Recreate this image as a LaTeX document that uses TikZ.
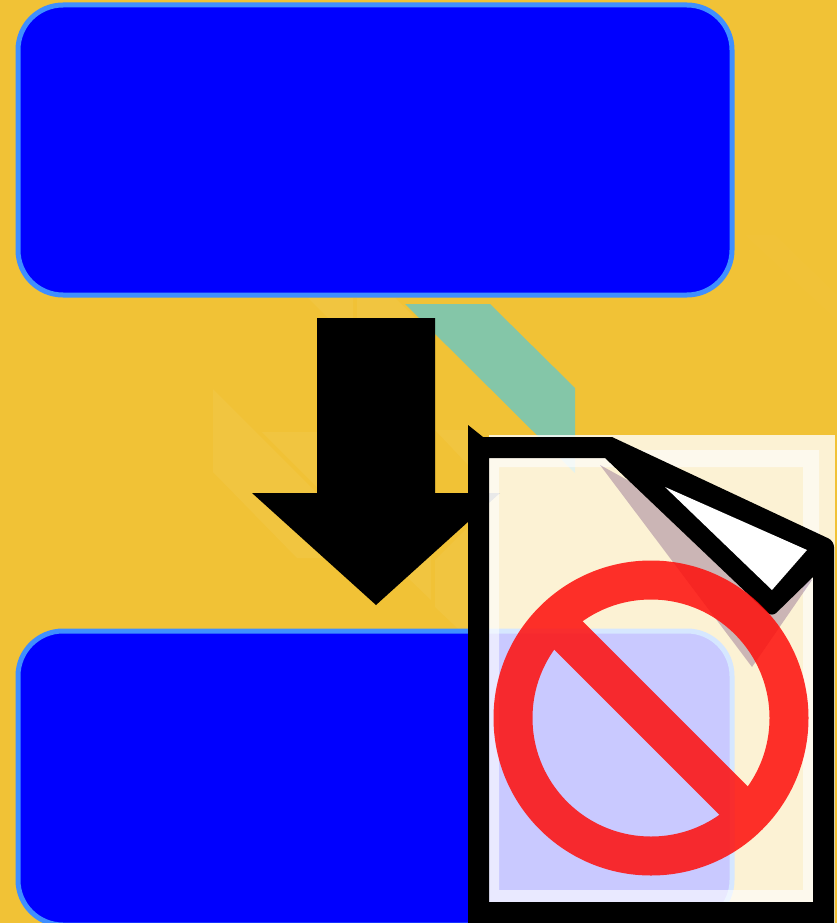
\documentclass[tikz,border=0pt]{standalone}
\usepackage{xcolor}
\usetikzlibrary{positioning}
\definecolor{panelbg}{HTML}{F1C236}
\definecolor{boxblue}{HTML}{0000FF}
\definecolor{boxedge}{HTML}{3F8FFF}
\definecolor{tealband}{HTML}{84C6A8}
\definecolor{forbidred}{RGB}{254,13,10}
\definecolor{foldshade}{RGB}{90,40,110}

\begin{document}
\begin{tikzpicture}[
        x=1pt, y=-1pt,
        bluebox/.style={draw=boxedge, fill=boxblue, line width=5pt, rounded corners=45pt, inner sep=0pt, outer sep=0pt, minimum width=714pt},
        faint/.style={fill=white, fill opacity=0.05},
        sheet/.style={fill=white, fill opacity=0.79},
        sheetring/.style={fill=white, fill opacity=0.6, even odd rule},
        outline/.style={fill=black, even odd rule},
        forbid/.style={draw=forbidred, line width=39pt}
    ]
        \useasboundingbox (0,0) rectangle (837,923);
        \fill[panelbg] (0,0) rectangle (837,923);

        % Faint shapes on the background
        \fill[faint] (213,389) -- (317,493) -- (322,558) -- (297,558) -- (213,472) -- cycle;
        \fill[faint] (262,432) -- (317,432) -- (317,487) -- cycle;
        \fill[faint] (435,430) -- (470,430) -- (470,467) -- cycle;
        \fill[faint] (405,575) -- (431,600) -- (431,550) -- cycle;
        \fill[faint] (435,560) -- (470,525) -- (470,640) -- (435,607) -- cycle;
        \fill[faint] (308,298) -- (353,298) -- (353,318) -- (328,318) -- cycle;
        \fill[faint] (357,298) -- (395,298) -- (415,318) -- (357,318) -- cycle;
        \fill[faint, fill opacity=0.012] (745,235) -- (837,320) -- (837,295) -- (775,235) -- cycle;

        % Teal band behind arrow and sheet
        \fill[tealband] (405,304) -- (490,304) -- (575,388) -- (575,473) -- cycle;

        % Boxes
        \node[bluebox, minimum height=290pt, anchor=north west] (topbox) at (18,5) {};
        \node[bluebox, minimum height=294pt, anchor=north west] (bottombox) at (18,631) {};

        % Arrow between the boxes
        \fill[black] (317,318) -- (435,318) -- (435,493) -- (500,493) -- (376,605) -- (252,493) -- (317,493) -- cycle;

        % Sheet: pale layers over everything
        \fill[sheet] (489,435) rectangle (835,923);
        \fill[sheetring] (489,450) rectangle (819,902) (499,467) rectangle (803,890);

        % Shadow of the fold
        \fill[foldshade, fill opacity=0.3] (600,465) -- (700,520) -- (812,580) -- (752,667) -- cycle;

        % Sheet outline and fold
        \fill[outline] (468,425) -- (483,437) -- (612,437) [rounded corners=6pt] -- (834,541) [sharp corners] -- (834,923) -- (468,923) -- cycle
            (489,458) -- (605,458) [rounded corners=6pt] -- (772,617) [sharp corners] -- (813,577) -- (813,902) -- (489,902) -- cycle;
        \fill[white] (665,487) -- (807,550) -- (772,590) -- cycle;

        % Forbidden sign
        \begin{scope}[transparency group, opacity=0.85]
            \node[forbid, circle, minimum size=276pt, inner sep=0pt, outer sep=0pt] (sign) at (651,718) {};
            \draw[forbidred, line width=40pt] (sign.135) -- (sign.-45);
        \end{scope}
    \end{tikzpicture}
\end{document}
